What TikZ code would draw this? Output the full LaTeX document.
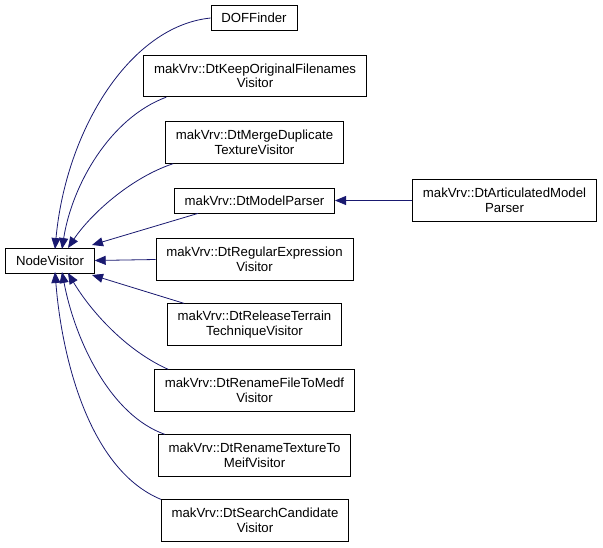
\documentclass[tikz,border=0pt]{standalone}
\usepackage{fontspec}
\setmainfont{Liberation Sans}
\usetikzlibrary{arrows.meta}

\definecolor{edgeblue}{HTML}{191970}

\begin{document}
\begin{tikzpicture}[x=1pt, y=-1pt,
    cls/.style={draw, fill=white, line width=0.8pt, align=center,
                inner xsep=10.3pt, inner ysep=2pt, minimum height=25pt,
                font=\fontsize{13.2}{14.5}\selectfont},
    tall/.style={minimum height=41.5pt},
    inherit/.style={draw=edgeblue, line width=0.8pt,
                    -{Triangle[length=11pt, width=9pt, fill=edgeblue]}}]
\useasboundingbox (0,0) rectangle (603,547); % keep the page size

\node [cls] (nodevisitor) at (50,260.5) {NodeVisitor};
\node [cls] (doffinder) at (254,18) {DOFFinder};
\node [cls, tall] (keepnames) at (255,76) {makVrv::DtKeepOriginalFilenames\\Visitor};
\node [cls, tall] (mergedup) at (254.5,142.5) {makVrv::DtMergeDuplicate\\TextureVisitor};
\node [cls] (modelparser) at (254.5,200.5) {makVrv::DtModelParser};
\node [cls, tall] (articulated) at (504.5,200.5) {makVrv::DtArticulatedModel\\Parser};
\node [cls, tall] (regexp) at (254.5,259.5) {makVrv::DtRegularExpression\\Visitor};
\node [cls, tall] (release) at (254.5,324.5) {makVrv::DtReleaseTerrain\\TechniqueVisitor};
\node [cls, tall] (tomedf) at (254.5,390.5) {makVrv::DtRenameFileToMedf\\Visitor};
\node [cls, tall] (tomeif) at (254.5,455.5) {makVrv::DtRenameTextureTo\\MeifVisitor};
\node [cls, tall] (search) at (255,520.5) {makVrv::DtSearchCandidate\\Visitor};

\draw [inherit] (doffinder.west) .. controls (130,26) and (66,130) .. (55,249);
\draw [inherit] (keepnames.south west) ++(23pt,0pt) .. controls (110,118) and (72,185) .. (62,249);
\draw [inherit] (mergedup.south west) ++(8pt,0pt) .. controls (130,178) and (90,215) .. (68,248);
\draw [inherit] (modelparser.south west) ++(24pt,0pt) -- (92,245);
\draw [inherit] (regexp.west) -- (nodevisitor.east);
\draw [inherit] (release.north west) ++(17pt,0pt) -- (92,275);
\draw [inherit] (tomedf.north west) ++(14pt,0pt) .. controls (125,350) and (90,310) .. (68,273);
\draw [inherit] (tomeif.north west) ++(7pt,0pt) .. controls (110,415) and (75,340) .. (62,272);
\draw [inherit] (search.north west) ++(0pt,0pt) .. controls (90,470) and (62,360) .. (55,272);
\draw [inherit] (articulated.west) -- (modelparser.east);
\end{tikzpicture}
\end{document}
